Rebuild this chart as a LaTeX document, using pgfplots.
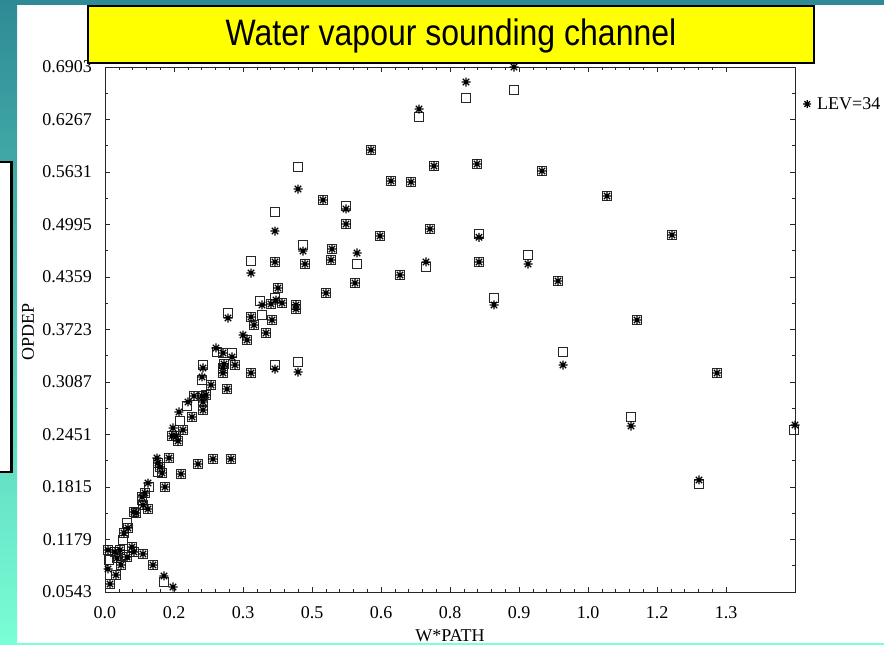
\documentclass[border=0pt]{standalone}
\usepackage{pgfplots}
\usepackage{pgfplotstable}
\pgfplotsset{compat=1.18}
\usepackage{fontspec}
\setmainfont{Liberation Serif}
\newfontfamily\titlefont{Liberation Sans}

\definecolor{slideteal}{RGB}{46,139,150}
\definecolor{slideaqua}{RGB}{122,255,214}
\definecolor{titleyellow}{RGB}{255,255,0}

% 8-spoke asterisk like the plotter's symbol
\pgfdeclareplotmark{ast8}{%
  \pgfpathmoveto{\pgfqpoint{-\pgfplotmarksize}{0pt}}\pgfpathlineto{\pgfqpoint{\pgfplotmarksize}{0pt}}%
  \pgfpathmoveto{\pgfqpoint{0pt}{-\pgfplotmarksize}}\pgfpathlineto{\pgfqpoint{0pt}{\pgfplotmarksize}}%
  \pgfpathmoveto{\pgfqpoint{-0.707\pgfplotmarksize}{-0.707\pgfplotmarksize}}\pgfpathlineto{\pgfqpoint{0.707\pgfplotmarksize}{0.707\pgfplotmarksize}}%
  \pgfpathmoveto{\pgfqpoint{-0.707\pgfplotmarksize}{0.707\pgfplotmarksize}}\pgfpathlineto{\pgfqpoint{0.707\pgfplotmarksize}{-0.707\pgfplotmarksize}}%
  \pgfusepathqstroke}

% open squares
\pgfplotstableread{
x y
0.8300 0.6624
0.7325 0.6527
0.6371 0.6297
0.5397 0.5897
0.6675 0.5704
0.7548 0.5728
0.5803 0.5522
0.6209 0.5510
0.8867 0.5643
1.0186 0.5340
0.5580 0.4856
0.6594 0.4940
0.7588 0.4880
1.1504 0.4868
0.6513 0.4480
0.5986 0.4383
0.7588 0.4541
0.8583 0.4625
0.9191 0.4310
0.7893 0.4105
1.0794 0.3838
0.9293 0.3450
1.2417 0.3196
1.0673 0.2663
1.3980 0.2505
1.2052 0.1851
0.3916 0.5691
0.4423 0.5292
0.4890 0.5219
0.4890 0.5001
0.3449 0.5146
0.4017 0.4747
0.4606 0.4698
0.5113 0.4516
0.4058 0.4516
0.2962 0.4553
0.3449 0.4541
0.4586 0.4565
0.5073 0.4286
0.4484 0.4165
0.3510 0.4226
0.3449 0.4105
0.3145 0.4068
0.3591 0.4044
0.3368 0.4032
0.3186 0.3899
0.3875 0.4020
0.3875 0.3971
0.3388 0.3838
0.2962 0.3874
0.3023 0.3777
0.3267 0.3681
0.2881 0.3596
0.2496 0.3923
0.2272 0.3450
0.2394 0.3438
0.2577 0.3438
0.2415 0.3305
0.2638 0.3293
0.1988 0.3293
0.1968 0.3111
0.2151 0.3051
0.2394 0.3257
0.2394 0.3196
0.2962 0.3196
0.3449 0.3293
0.3916 0.3329
0.2475 0.3002
0.1806 0.2917
0.1968 0.2917
0.2049 0.2930
0.1988 0.2845
0.1988 0.2748
0.1664 0.2796
0.1765 0.2663
0.1522 0.2614
0.1583 0.2505
0.1359 0.2433
0.1441 0.2433
0.1481 0.2372
0.1299 0.2166
0.1075 0.2106
0.1116 0.2057
0.1075 0.1997
0.1157 0.1985
0.1217 0.1815
0.1542 0.1972
0.1887 0.2094
0.2191 0.2154
0.2557 0.2154
0.0893 0.1815
0.0812 0.1742
0.0751 0.1694
0.0751 0.1657
0.0771 0.1597
0.0872 0.1548
0.0588 0.1512
0.0629 0.1500
0.0446 0.1379
0.0467 0.1318
0.0386 0.1258
0.0365 0.1173
0.0304 0.1052
0.0203 0.1028
0.0406 0.0991
0.0446 0.0967
0.0081 0.0931
0.0061 0.1052
0.0243 0.0955
0.0548 0.1088
0.0588 0.1028
0.0771 0.1003
0.0974 0.0870
0.1197 0.0664
0.0223 0.0749
0.0325 0.0870
0.0101 0.0640
}\squares

% asterisks, LEV=34
\pgfplotstableread{
x y
0.8300 0.6903
0.7325 0.6721
0.6371 0.6394
0.5397 0.5897
0.6675 0.5704
0.7548 0.5728
0.5803 0.5522
0.6209 0.5510
0.8867 0.5643
1.0186 0.5340
0.5580 0.4856
0.6594 0.4940
0.7588 0.4840
1.1504 0.4868
0.6513 0.4541
0.5986 0.4383
0.7588 0.4541
0.8583 0.4516
0.9191 0.4310
0.7893 0.4020
1.0794 0.3838
0.9293 0.3293
1.2417 0.3196
1.0673 0.2554
1.4000 0.2566
1.2052 0.1900
0.3916 0.5425
0.4423 0.5292
0.4890 0.5183
0.4890 0.5001
0.3449 0.4916
0.4017 0.4674
0.4606 0.4698
0.5113 0.4650
0.4058 0.4516
0.2962 0.4407
0.3449 0.4541
0.4586 0.4565
0.5073 0.4286
0.4484 0.4165
0.3510 0.4226
0.3469 0.4080
0.3186 0.4020
0.3591 0.4044
0.3368 0.4032
0.3875 0.4020
0.3875 0.3971
0.3388 0.3838
0.2962 0.3874
0.3023 0.3777
0.3267 0.3681
0.2800 0.3656
0.2881 0.3596
0.2496 0.3862
0.2252 0.3499
0.2394 0.3438
0.2577 0.3390
0.2415 0.3305
0.2638 0.3293
0.1988 0.3257
0.1968 0.3148
0.2151 0.3051
0.2394 0.3257
0.2394 0.3196
0.2962 0.3196
0.3449 0.3244
0.3916 0.3208
0.2475 0.3002
0.1806 0.2917
0.1968 0.2917
0.2049 0.2930
0.1988 0.2845
0.1988 0.2748
0.1684 0.2845
0.1765 0.2663
0.1501 0.2724
0.1583 0.2505
0.1359 0.2433
0.1441 0.2433
0.1481 0.2372
0.1380 0.2530
0.1299 0.2166
0.1055 0.2166
0.1075 0.2106
0.1116 0.2057
0.1157 0.1985
0.1217 0.1815
0.1542 0.1972
0.1887 0.2094
0.2191 0.2154
0.2557 0.2154
0.0872 0.1863
0.0812 0.1742
0.0751 0.1694
0.0771 0.1597
0.0872 0.1548
0.0588 0.1512
0.0629 0.1500
0.0467 0.1318
0.0386 0.1258
0.0304 0.1052
0.0203 0.1028
0.0446 0.0967
0.0061 0.1052
0.0243 0.0955
0.0548 0.1088
0.0588 0.1028
0.0771 0.1003
0.0974 0.0870
0.1197 0.0737
0.1380 0.0604
0.0061 0.0822
0.0223 0.0749
0.0325 0.0870
0.0101 0.0640
}\asterisks

\begin{document}
\begin{tikzpicture}
\useasboundingbox (0,0) rectangle (884bp,-645bp);

% slide background
\begin{scope}[x=1bp,y=-1bp]
\fill[white] (0,0) rectangle (884,645);
\shade[top color=slideteal, bottom color=slideaqua] (0,0) rectangle (17,645);
\fill[slideteal] (0,0) rectangle (884,5);
\fill[slideaqua] (0,643) rectangle (884,645);
\filldraw[fill=white, draw=black, line width=2bp] (-10,162) rectangle (11.5,472);
\end{scope}

\begin{axis}[
    at={(105bp,-592bp)}, anchor=south west,
    scale only axis, width=690bp, height=525bp,
    xmin=0, xmax=1.4, ymin=0.0543, ymax=0.6903,
    clip=false,
    axis line style={black!85, line width=0.8bp},
    tick align=inside,
    major tick length=5bp, minor tick length=3bp,
    tick style={black!85, line width=0.6bp},
    xtick={0,0.14,0.28,0.42,0.56,0.70,0.84,0.98,1.12,1.26},
    xticklabels={0.0,0.2,0.3,0.5,0.6,0.8,0.9,1.0,1.2,1.3},
    ytick={0.0543,0.1179,0.1815,0.2451,0.3087,0.3723,0.4359,0.4995,0.5631,0.6267,0.6903},
    yticklabels={0.0543,0.1179,0.1815,0.2451,0.3087,0.3723,0.4359,0.4995,0.5631,0.6267,0.6903},
    minor x tick num=4, minor y tick num=1,
    ticklabel style={font=\fontsize{18bp}{20bp}\selectfont, inner sep=0pt},
    xticklabel style={anchor=north, yshift=-14bp},
    yticklabel style={anchor=east, xshift=-13bp},
    legend style={at={(axis description cs:1,0.9295)}, anchor=west, xshift=8bp,
        draw=none, fill=none, inner sep=0pt, column sep=4bp,
        font=\fontsize{18bp}{20bp}\selectfont},
    legend image code/.code={\draw[mark=ast8, mark size=4bp, line width=1.1bp] plot coordinates {(0bp,0bp)};},
]
\addplot[only marks, mark=square, mark size=4.3bp, mark options={line width=0.8bp, draw=black!85}, forget plot] table {\squares};
\addplot[only marks, mark=ast8, mark size=4.5bp, mark options={line width=1.3bp, draw=black}] table {\asterisks};
\addlegendentry{LEV=34}
\end{axis}

\begin{scope}[x=1bp,y=-1bp]
\filldraw[fill=titleyellow, draw=black, line width=2bp] (88,6) rectangle (814,63);
\node[inner sep=0pt] at (451,36) {\titlefont\fontsize{32bp}{36bp}\selectfont\scalebox{1}[1.15]{Water vapour sounding channel}};
\node[inner sep=0pt, anchor=base] at (450,641) {\fontsize{18bp}{20bp}\selectfont W*PATH};
\node[inner sep=0pt, rotate=90] at (28,332) {\fontsize{18bp}{20bp}\selectfont OPDEP};
\end{scope}
\end{tikzpicture}
\end{document}
